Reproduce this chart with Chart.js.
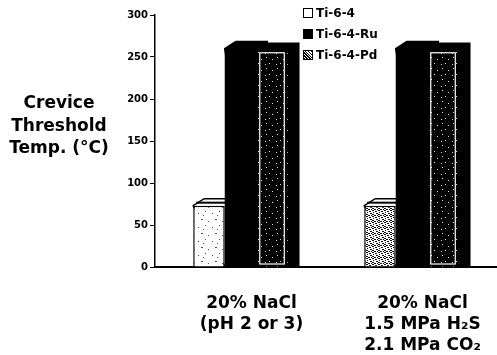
<!DOCTYPE html>
<html>
<head>
<meta charset="utf-8">
<script src="https://cdn.jsdelivr.net/npm/chart.js@4.4.1/dist/chart.umd.min.js"></script>
<style>
  body { margin: 0; background: #fff; }
  #wrap { position: relative; width: 497px; height: 355px; }
  #chart { position: absolute; left: 0; top: 0; }
  .ytitle { position: absolute; left: 0; top: 91px; width: 118px; text-align: center;
    font: bold 17px "DejaVu Sans", sans-serif; line-height: 22.5px; color: #000; }
  .legend { position: absolute; left: 303px; top: 4px; font: bold 12px "DejaVu Sans", sans-serif; color: #000; }
  .legend div { height: 21px; line-height: 18px; white-space: nowrap; }
  .legend span.box { display: inline-block; width: 8px; height: 8px; border: 1px solid #000;
    margin-right: 3px; vertical-align: -1px; }
</style>
</head>
<body>
<div id="wrap">
  <canvas id="chart" width="497" height="355"></canvas>
  <div class="ytitle">Crevice<br>Threshold<br>Temp. (°C)</div>
  <div class="legend" id="legend"></div>
</div>
<script>
// data
const categories = [
    ["20% NaCl", "(pH 2 or 3)"],
    ["20% NaCl", "1.5 MPa H₂S", "2.1 MPa CO₂"]
];
const seriesNames = ["Ti-6-4", "Ti-6-4-Ru", "Ti-6-4-Pd"];
const ti64 = [73, 73];
const ti64Ru = [260, 260];
const ti64Pd = [258, 258];
const yTicks = [0, 50, 100, 150, 200, 250, 300];

// small fixed textures to mimic the scanned fills
function makePattern(size, bg, fg, dots) {
    let c = document.createElement("canvas");
    c.width = size; c.height = size;
    let g = c.getContext("2d");
    g.fillStyle = bg;
    g.fillRect(0, 0, size, size);
    g.fillStyle = fg;
    dots.forEach(d => g.fillRect(d[0], d[1], d[2] || 1, d[3] || 1));
    return g.createPattern(c, "repeat");
}
let ctx = document.getElementById("chart").getContext("2d");
const sparseWhite = makePattern(14, "#fff", "#555", [[2, 3], [9, 1], [5, 9, 2, 1], [12, 11], [7, 5]]);
const denseGrey = makePattern(6, "#fff", "#111", [[0, 0, 2, 1], [3, 1, 2, 1], [1, 2], [4, 3, 2, 1], [0, 4, 2, 1], [2, 5, 2, 1], [5, 5]]);
const pdDots = makePattern(11, "#000", "#ddd", [[2, 2], [8, 4], [5, 8], [1, 9]]);

const depthX = 11;
const depthY = 7;

// draws the top and side faces behind the fronts, using the bar elements
const bars3d = {
    id: "bars3d",
    beforeDatasetsDraw(chart) {
        let c = chart.ctx;
        c.save();
        chart.data.datasets.forEach((ds, i) => {
            chart.getDatasetMeta(i).data.forEach(bar => {
                let p = bar.getProps(["x", "y", "base", "width"], true);
                let x0 = p.x - p.width / 2, x1 = p.x + p.width / 2;
                c.beginPath();
                c.moveTo(x0, p.y);
                c.lineTo(x0 + depthX, p.y - depthY);
                c.lineTo(x1 + depthX, p.y - depthY);
                c.lineTo(x1 + depthX, p.base - 1);
                c.lineTo(x1, p.base);
                c.closePath();
                c.fillStyle = i == 0 ? "#fff" : "#000";
                c.fill();
                c.strokeStyle = "#000";
                c.lineWidth = 1.5;
                c.stroke();
                if (i == 0) {
                    c.beginPath();
                    c.moveTo(x0 + 3, p.y - 3);
                    c.lineTo(x1 + 2, p.y - 3);
                    c.lineWidth = 2;
                    c.stroke();
                }
            });
        });
        c.restore();
    },
    afterDatasetsDraw(chart) {
        let c = chart.ctx;
        c.save();
        c.strokeStyle = "#fff";
        c.lineWidth = 1.2;
        chart.getDatasetMeta(2).data.forEach(bar => {
            let p = bar.getProps(["x", "y", "base", "width"], true);
            c.strokeRect(p.x - p.width / 2 + 3.5, p.y + 2.5, p.width - 7, p.base - p.y - 5);
        });
        c.restore();
    }
};

let chart = new Chart(ctx, {
    type: "bar",
    data: {
        labels: categories,
        datasets: [
            { label: seriesNames[0], data: ti64, backgroundColor: [sparseWhite, denseGrey], borderColor: "#000", borderWidth: 1.5 },
            { label: seriesNames[1], data: ti64Ru, backgroundColor: "#000", borderColor: "#000", borderWidth: 0 },
            { label: seriesNames[2], data: ti64Pd, backgroundColor: pdDots, borderColor: "#000", borderWidth: 0 }
        ]
    },
    options: {
        responsive: false,
        animation: false,
        devicePixelRatio: 1,
        layout: { padding: { top: 15, right: 0, left: 0, bottom: 0 } },
        datasets: { bar: { barPercentage: 1, categoryPercentage: 0.553 } },
        plugins: { legend: { display: false }, tooltip: { enabled: false } },
        scales: {
            x: {
                grid: { display: false },
                border: { color: "#000", width: 2 },
                ticks: {
                    color: "#000",
                    padding: 18,
                    labelOffset: 11,
                    maxRotation: 0,
                    font: { family: "DejaVu Sans", size: 17, weight: "bold", lineHeight: 1.24 }
                },
                afterFit(scale) { scale.height = 88; }
            },
            y: {
                min: 0,
                max: 300,
                afterBuildTicks(scale) { scale.ticks = yTicks.map(v => ({ value: v })); },
                grid: { drawOnChartArea: false, color: "#000", tickLength: 5, lineWidth: 1 },
                border: { color: "#000", width: 1.5 },
                ticks: {
                    color: "#000",
                    padding: 2,
                    font: { family: "DejaVu Sans", size: 10, weight: "bold" }
                },
                afterFit(scale) { scale.width = 155; }
            }
        }
    },
    plugins: [bars3d]
});

// legend built from the chart datasets
let legendSwatch = ["#fff", "#000", "repeating-linear-gradient(45deg,#000 0 1px,#fff 1px 2px)"];
let legendHtml = "";
chart.data.datasets.forEach((ds, i) => {
    legendHtml += '<div><span class="box" style="background:' + legendSwatch[i] + '"></span>' + ds.label + '</div>';
});
document.getElementById("legend").innerHTML = legendHtml;
</script>
</body>
</html>
